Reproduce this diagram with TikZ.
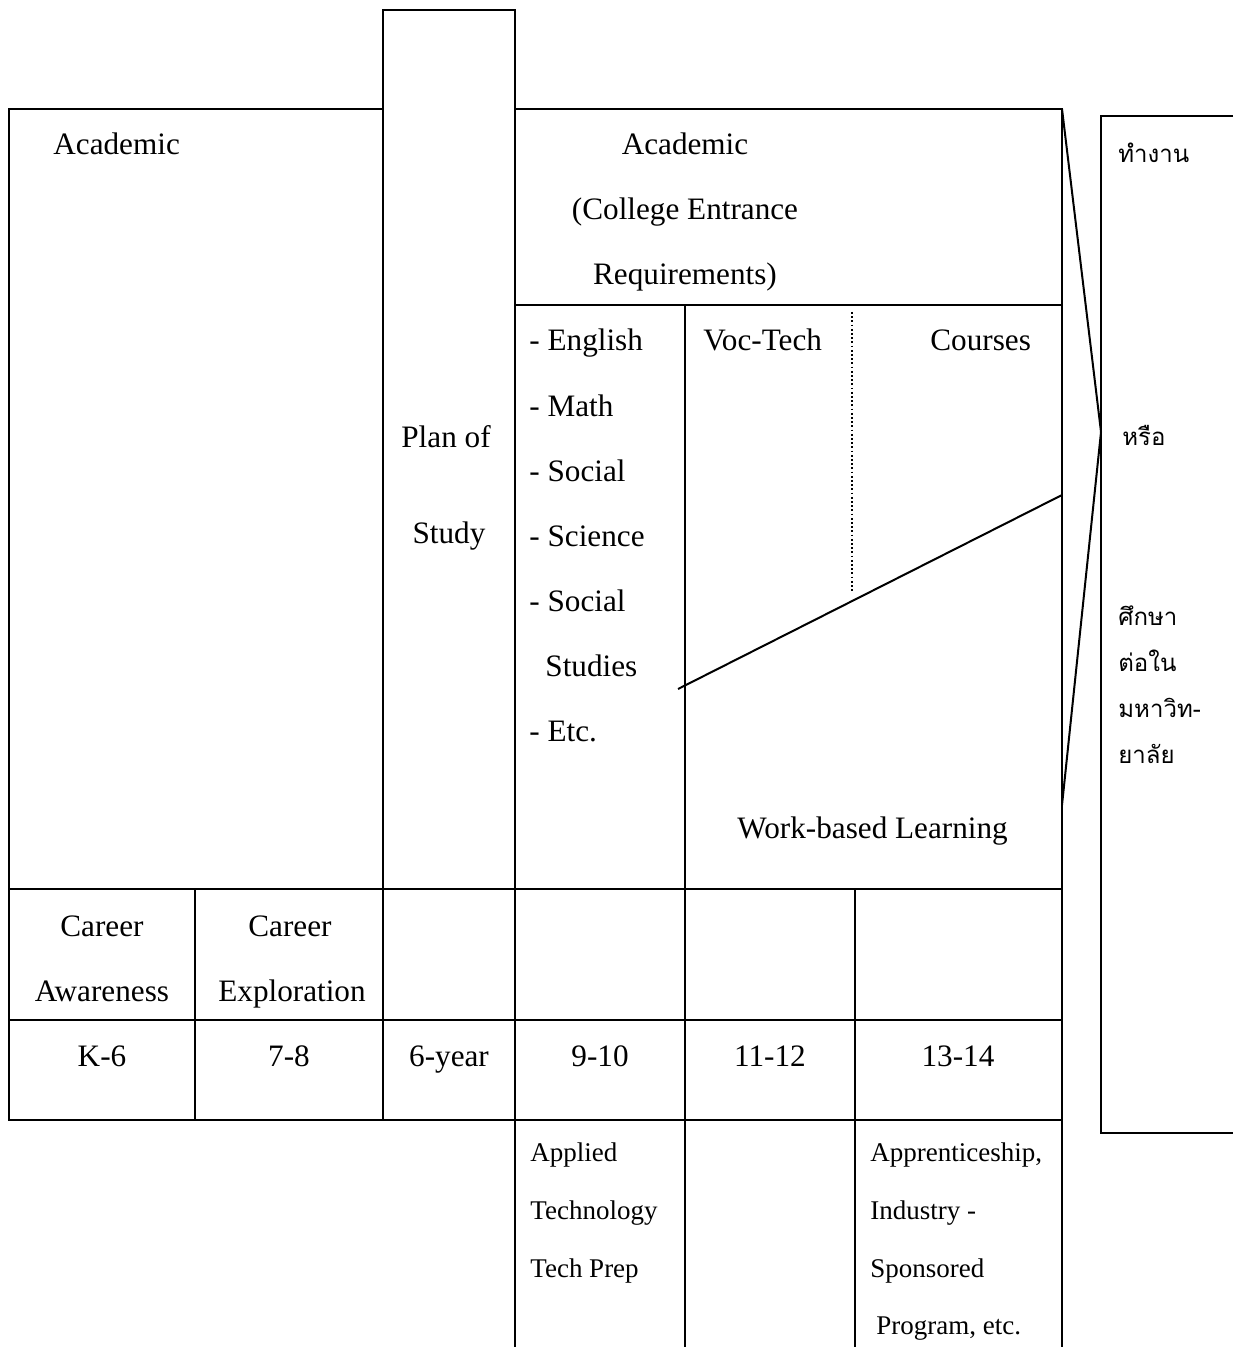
\documentclass[tikz,border=0pt]{standalone}
\usepackage{fontspec}
\setmainfont{Liberation Serif}
\newfontfamily\thaifont[Script=Thai]{Loma}
\begin{document}
\begin{tikzpicture}[x=0.5pt,y=-0.5pt,
  rule/.style={line width=1pt},
  thin rule/.style={line width=0.8pt},
  dots/.style={line width=0.9pt,dash pattern=on 0.9pt off 1.2pt},
  txt/.style={inner sep=0pt,anchor=base,font=\fontsize{15.6}{18}\selectfont},
  txtw/.style={txt,anchor=base west},
  small/.style={inner sep=0pt,anchor=base west,font=\fontsize{13.5}{16}\selectfont},
  thai/.style={inner sep=0pt,anchor=base west,font=\thaifont\fontsize{12}{14}\selectfont}]
\useasboundingbox (0,0) rectangle (1233,1347);
% frame
\draw[rule] (383,109) -- (9,109) -- (9,1120) -- (1062,1120) -- (1062,109) -- (515,109);
\draw[rule] (383,1120) -- (383,10) -- (515,10) -- (515,1347);
\draw[rule] (515,305) -- (1062,305);
\draw[rule] (685,305) -- (685,1347);
\draw[rule] (855,889) -- (855,1347);
\draw[rule] (1062,1120) -- (1062,1347);
\draw[rule] (9,889) -- (1062,889);
\draw[rule] (9,1020) -- (1062,1020);
\draw[rule] (195,889) -- (195,1120);
\draw[dots] (852,312) -- (852,593);
% connectors
\coordinate (s1) at (678,689);
\coordinate (s2) at (1062,495);
\draw[rule] (s1) -- (s2);
\coordinate (c1) at (1062,109);
\coordinate (c2) at (1101,432);
\coordinate (c3) at (1062,805);
\draw[rule] (c1) -- (c2) -- (c3);
% thai box
\draw[thin rule] (1233,116) -- (1101,116) -- (1101,1133) -- (1233,1133);
% texts
\node[txtw] (acL) at (53,155) {Academic};
\node[txt] (acR) at (685,155) {Academic};
\node[txt] (ce) at (685,220) {(College Entrance};
\node[txt] (rq) at (685,285) {Requirements)};
\node[txt] (pl) at (446,447) {Plan of};
\node[txt] (st) at (449,543) {Study};
\node[txtw] (l1) at (529,351) {- English};
\node[txtw] (l2) at (529,416) {- Math};
\node[txtw] (l3) at (529,481) {- Social};
\node[txtw] (l4) at (529,546) {- Science};
\node[txtw] (l5) at (529,611) {- Social};
\node[txtw] (l6) at (545,676) {Studies};
\node[txtw] (l7) at (529,741) {- Etc.};
\node[txtw] (vt) at (703,351) {Voc-Tech};
\node[txtw] (co) at (930,351) {Courses};
\node[txtw] (wb) at (737,838) {Work-based Learning};
\node[txt] (ca1) at (102,936) {Career};
\node[txt] (ca2) at (102,1001) {Awareness};
\node[txt] (ce1) at (290,936) {Career};
\node[txt] (ce2) at (292,1001) {Exploration};
\node[txt] (g1) at (102,1066) {K-6};
\node[txt] (g2) at (289,1066) {7-8};
\node[txt] (g3) at (449,1066) {6-year};
\node[txt] (g4) at (600,1066) {9-10};
\node[txt] (g5) at (770,1066) {11-12};
\node[txt] (g6) at (958,1066) {13-14};
\node[small] (b1) at (530,1161) {Applied};
\node[small] (b2) at (530,1219) {Technology};
\node[small] (b3) at (530,1277) {Tech Prep};
\node[small] (a1) at (870,1161) {Apprenticeship,};
\node[small] (a2) at (870,1219) {Industry -};
\node[small] (a3) at (870,1277) {Sponsored};
\node[small] (a4) at (876,1334) {Program, etc.};
\node[thai] (t1) at (1118,163) {ทำงาน};
\node[thai] (t2) at (1122,445) {หรือ};
\node[thai] (t3) at (1118,625) {ศึกษา};
\node[thai] (t4) at (1118,671) {ต่อใน};
\node[thai] (t5) at (1118,717) {มหาวิท-};
\node[thai] (t6) at (1118,763) {ยาลัย};
\end{tikzpicture}
\end{document}
